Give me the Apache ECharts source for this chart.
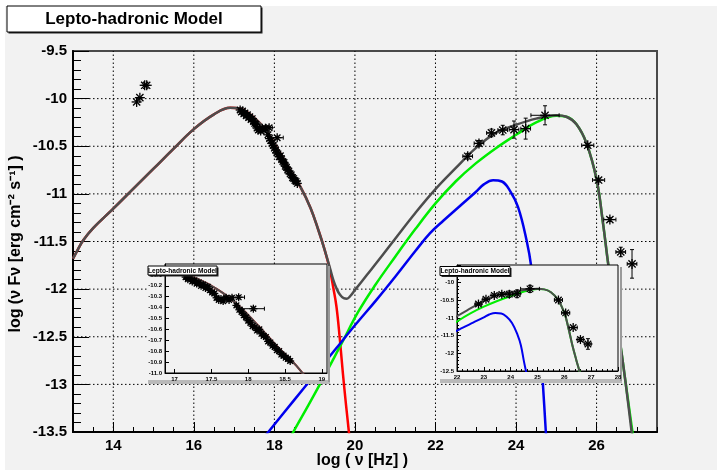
<!DOCTYPE html>
<html lang="en">
<head>
<meta charset="UTF-8">
<title>Lepto-hadronic Model</title>
<style>html,body{margin:0;padding:0;background:#fff}</style>
</head>
<body>
<div id="chart" style="width:717px;height:470px"></div>
<script src="https://cdn.jsdelivr.net/npm/echarts@6/dist/echarts.min.js"></script>
<script>
// model curves, x = log nu [Hz], y = log nuFnu
const synchX = [13.0, 13.1, 13.25, 13.5, 14.0, 14.5, 15.0, 15.5, 16.0, 16.5, 16.9, 17.15, 17.5, 17.8, 18.1, 18.4, 18.65, 18.9, 19.1, 19.25, 19.38, 19.46, 19.54, 19.62, 19.70, 19.78, 19.85, 19.92]
const synchY = [-11.68, -11.60, -11.49, -11.36, -11.155, -10.945, -10.735, -10.525, -10.32, -10.165, -10.095, -10.105, -10.20, -10.34, -10.54, -10.76, -10.93, -11.15, -11.39, -11.59, -11.80, -11.98, -12.18, -12.50, -12.88, -13.22, -13.5, -13.8]

const totalX = [13.0, 13.1, 13.25, 13.5, 14.0, 14.5, 15.0, 15.5, 16.0, 16.5, 16.9, 17.15, 17.5, 17.8, 18.1, 18.4, 18.65, 18.9, 19.1, 19.25, 19.38, 19.46, 19.55, 19.63, 19.72, 19.8, 19.88, 20.0, 20.3, 20.6, 21.0, 21.5, 22.0, 22.5, 23.0, 23.5, 24.0, 24.5, 25.0, 25.25, 25.5, 25.75, 26.0, 26.16, 26.29, 26.45, 26.58, 26.72, 26.87, 27.0]
const totalY = [-11.68, -11.60, -11.49, -11.36, -11.155, -10.945, -10.735, -10.525, -10.32, -10.165, -10.095, -10.105, -10.20, -10.34, -10.54, -10.76, -10.93, -11.15, -11.39, -11.59, -11.78, -11.90, -12.0, -12.06, -12.095, -12.10, -12.075, -12.01, -11.85, -11.69, -11.47, -11.2, -10.95, -10.73, -10.52, -10.36, -10.275, -10.21, -10.175, -10.19, -10.27, -10.47, -10.85, -11.31, -11.74, -12.2, -12.55, -12.98, -13.5, -13.95]

const hadronX = [18.3, 18.47, 19.0, 19.67, 20.08, 20.5, 21.0, 21.5, 22.0, 22.5, 23.0, 23.5, 24.0, 24.5, 25.0, 25.25, 25.5, 25.75, 26.0, 26.16, 26.29, 26.45, 26.58, 26.72, 26.89, 27.0]
const hadronY = [-13.63, -13.5, -13.1, -12.57, -12.24, -11.96, -11.66, -11.37, -11.1, -10.87, -10.68, -10.52, -10.38, -10.25, -10.18, -10.19, -10.27, -10.47, -10.85, -11.31, -11.74, -12.2, -12.55, -12.98, -13.5, -13.85]

const sscX = [17.7, 17.85, 18.5, 19.0, 19.5, 20.0, 20.54, 21.0, 21.5, 21.86, 22.2, 22.6, 23.0, 23.2, 23.43, 23.65, 23.84, 24.05, 24.26, 24.38, 24.5, 24.6, 24.66, 24.74, 24.8]
const sscY = [-13.58, -13.5, -13.16, -12.9, -12.64, -12.38, -12.11, -11.87, -11.6, -11.415, -11.28, -11.13, -10.98, -10.9, -10.856, -10.87, -10.96, -11.14, -11.485, -11.77, -12.25, -12.62, -12.95, -13.5, -13.9]

// observations: x, y, x error, y error
const optX = [14.58, 14.66, 14.78, 14.83]
const optY = [-10.035, -9.99, -9.86, -9.86]
const optEx = [0, 0, 0, 0]
const optEy = [0, 0, 0, 0]

const xrayX = [17.15, 17.18, 17.21, 17.24, 17.27, 17.30, 17.33, 17.36, 17.39, 17.42, 17.45, 17.48, 17.51, 17.54, 17.57, 17.60, 17.63, 17.66, 17.70, 17.74, 17.78, 17.87, 17.84, 17.88, 17.91, 17.94, 17.97, 18.00, 18.03, 18.07, 18.06, 18.09, 18.12, 18.15, 18.18, 18.21, 18.24, 18.27, 18.30, 18.33, 18.36, 18.39, 18.42, 18.45, 18.48, 18.51, 18.54, 18.57]
const xrayY = [-10.12, -10.14, -10.13, -10.16, -10.15, -10.18, -10.17, -10.20, -10.19, -10.22, -10.21, -10.24, -10.26, -10.27, -10.31, -10.33, -10.32, -10.34, -10.31, -10.33, -10.31, -10.305, -10.38, -10.42, -10.44, -10.47, -10.49, -10.52, -10.54, -10.41, -10.57, -10.58, -10.61, -10.60, -10.64, -10.66, -10.67, -10.71, -10.72, -10.75, -10.76, -10.79, -10.80, -10.83, -10.84, -10.86, -10.87, -10.89]
const xrayEx = [0.02, 0.02, 0.02, 0.02, 0.02, 0.02, 0.02, 0.02, 0.02, 0.02, 0.02, 0.02, 0.02, 0.02, 0.02, 0.02, 0.02, 0.02, 0.02, 0.02, 0.02, 0.08, 0.02, 0.02, 0.02, 0.02, 0.02, 0.02, 0.02, 0.15, 0.02, 0.02, 0.02, 0.02, 0.02, 0.02, 0.02, 0.02, 0.02, 0.02, 0.02, 0.02, 0.02, 0.02, 0.02, 0.02, 0.02, 0.02]
const xrayEy = xrayX.map(() => 0.015)

const gamX = [22.80, 23.08, 23.39, 23.67, 23.95, 24.24, 24.72, 25.78, 26.05, 26.33, 26.60, 26.88]
const gamY = [-10.605, -10.47, -10.36, -10.33, -10.325, -10.315, -10.175, -10.49, -10.855, -11.27, -11.61, -11.735]
const gamEx = [0.12, 0.12, 0.12, 0.12, 0.12, 0.12, 0.35, 0.15, 0.15, 0.15, 0.12, 0.12]
const gamEy = [0.03, 0.03, 0.04, 0.05, 0.09, 0.11, 0.10, 0.02, 0.02, 0.02, 0.05, 0.15]

// tick labels / grid positions
const mainXTicks = [14, 16, 18, 20, 22, 24, 26]
const mainYGrid = [-13, -12.5, -12, -11.5, -11, -10.5, -10]
const inset1XTicks = [17, 17.5, 18, 18.5, 19]

const FONT = "'Liberation Sans', Arial, Helvetica, sans-serif"
const pairs = (xs, ys) => xs.map((x, i) => [x, ys[i]])
const rows = (xs, ys, ex, ey) => xs.map((x, i) => [x, ys[i], ex[i], ey[i]])

function curve(xs, ys, color, width, axis, z) {
    return {
        type: 'line', data: pairs(xs, ys), xAxisIndex: axis[0], yAxisIndex: axis[1],
        showSymbol: false, smooth: 0.4, z: z, silent: true,
        lineStyle: { color: color, width: width }
    }
}

// dotted grid: one item per grid value, [direction, value]
function gridLines() {
    const data = mainXTicks.map(v => [0, v]).concat(mainYGrid.map(v => [1, v]))
    return {
        type: 'custom', data: data, xAxisIndex: 0, yAxisIndex: 0, z: 1, silent: true,
        encode: { x: -1, y: -1 },
        renderItem: function (params, api) {
            const dir = api.value(0), v = api.value(1)
            const a = dir === 0 ? api.coord([v, -13.5]) : api.coord([13, v])
            const b = dir === 0 ? api.coord([v, -9.5]) : api.coord([27.5, v])
            return {
                type: 'line', shape: { x1: a[0], y1: a[1], x2: b[0], y2: b[1] },
                style: { stroke: '#000', lineWidth: 1, lineDash: [1.5, 2.5] }
            }
        }
    }
}

// asterisk marker with error bars
function stars(data, size, axis, z) {
    return {
        type: 'custom', data: data, xAxisIndex: axis[0], yAxisIndex: axis[1], clip: true, z: z, silent: true,
        encode: { x: 0, y: 1 },
        renderItem: function (params, api) {
            const x = api.value(0), y = api.value(1), ex = api.value(2), ey = api.value(3)
            const c = api.coord([x, y])
            const kids = []
            const seg = (x1, y1, x2, y2, w) => kids.push({
                type: 'line', shape: { x1, y1, x2, y2 }, style: { stroke: '#000', lineWidth: w }
            })
            if (ex > 0) {
                const l = api.coord([x - ex, y])[0], r = api.coord([x + ex, y])[0]
                seg(l, c[1], r, c[1], 1)
                seg(l, c[1] - 2, l, c[1] + 2, 1)
                seg(r, c[1] - 2, r, c[1] + 2, 1)
            }
            if (ey > 0) {
                const t = api.coord([x, y + ey])[1], b = api.coord([x, y - ey])[1]
                seg(c[0], t, c[0], b, 1)
                seg(c[0] - 2, t, c[0] + 2, t, 1)
                seg(c[0] - 2, b, c[0] + 2, b, 1)
            }
            const s = size / 2, d = s * 0.72
            seg(c[0] - s, c[1], c[0] + s, c[1], 1.3)
            seg(c[0], c[1] - s, c[0], c[1] + s, 1.3)
            seg(c[0] - d, c[1] - d, c[0] + d, c[1] + d, 1.3)
            seg(c[0] - d, c[1] + d, c[0] + d, c[1] - d, 1.3)
            return { type: 'group', children: kids }
        }
    }
}

function modelSeries(axis, z, w, size) {
    return [
        curve(synchX, synchY, '#ff0000', w, axis, z),
        curve(hadronX, hadronY, '#00ee00', w, axis, z),
        curve(sscX, sscY, '#0000ee', w, axis, z),
        curve(totalX, totalY, '#4d4d4d', w, axis, z + 1),
        stars(rows(optX, optY, optEx, optEy), size, axis, z + 2),
        stars(rows(xrayX, xrayY, xrayEx, xrayEy), size - 1, axis, z + 2),
        stars(rows(gamX, gamY, gamEx, gamEy), size, axis, z + 2)
    ]
}

const bigLabel = { color: '#000', fontFamily: FONT, fontWeight: 'bold', fontSize: 15 }
const smallLabel = { color: '#000', fontFamily: FONT, fontWeight: 'bold', fontSize: 6, margin: 3, showMaxLabel: false }

function titleBox(x, y, w, h, fs, z) {
    return [
        { type: 'rect', z: z, shape: { x: x + 1.5, y: y + 1.5, width: w, height: h }, style: { fill: '#222' } },
        { type: 'rect', z: z, shape: { x: x, y: y, width: w, height: h }, style: { fill: '#fff', stroke: '#000', lineWidth: 1 } },
        { type: 'text', z: z, x: x + w / 2, y: y + h / 2 + 0.5, style: { text: 'Lepto-hadronic Model', fill: '#000', font: 'bold ' + fs + 'px ' + FONT, textAlign: 'center', textVerticalAlign: 'middle' } }
    ]
}

function insetBox(x, y, w, h, z) {
    return [
        { type: 'rect', z: z, shape: { x: x, y: y + h, width: w + 2, height: 4 }, style: { fill: '#b9b9b9' } },
        { type: 'rect', z: z, shape: { x: x + w, y: y + 2, width: 2, height: h }, style: { fill: '#9a9a9a' } },
        { type: 'rect', z: z, shape: { x: x, y: y, width: w, height: h }, style: { fill: '#f2f2f2' } }
    ]
}

const chart = echarts.init(document.getElementById('chart'))

chart.setOption({
    backgroundColor: '#f2f2f2',
    animation: false,
    grid: [
        { left: 73, top: 51, width: 584, height: 381, show: true, borderColor: '#4a4a4a', borderWidth: 2, backgroundColor: 'transparent' },
        { left: 165, top: 264, width: 162, height: 109, show: true, borderColor: '#000', borderWidth: 1, backgroundColor: '#f2f2f2', z: 12 },
        { left: 457, top: 265, width: 161, height: 106, show: true, borderColor: '#000', borderWidth: 1, backgroundColor: '#f2f2f2', z: 12 }
    ],
    xAxis: [
        {
            gridIndex: 0, type: 'value', min: 13, max: 27.5, position: 'bottom',
            axisLine: { onZero: false, lineStyle: { color: '#000', width: 2 } },
            axisTick: { customValues: mainXTicks, inside: true, length: 10, lineStyle: { color: '#000' } },
            axisLabel: Object.assign({ customValues: mainXTicks, margin: 6 }, bigLabel),
            splitLine: { show: false }
        },
        {
            gridIndex: 0, type: 'value', min: 13, max: 27.5, interval: 0.5, position: 'bottom',
            axisLine: { show: false, onZero: false },
            axisTick: { inside: true, length: 5, lineStyle: { color: '#000' } },
            axisLabel: { show: false }, splitLine: { show: false }
        },
        {
            gridIndex: 1, type: 'value', min: 16.87, max: 19.07, z: 13,
            axisLine: { onZero: false, lineStyle: { color: '#000', width: 1 } },
            axisTick: { customValues: inset1XTicks, inside: true, length: 4, lineStyle: { color: '#000' } },
            axisLabel: Object.assign({}, smallLabel, { customValues: inset1XTicks, showMaxLabel: true }),
            splitLine: { show: false }
        },
        {
            gridIndex: 2, type: 'value', min: 22, max: 28, interval: 1, z: 13,
            axisLine: { onZero: false, lineStyle: { color: '#000', width: 1 } },
            axisTick: { inside: true, length: 4, lineStyle: { color: '#000' } },
            minorTick: { show: true, splitNumber: 5, length: 2, lineStyle: { color: '#000' } },
            axisLabel: Object.assign({}, smallLabel, { showMaxLabel: true }),
            splitLine: { show: false }
        }
    ],
    yAxis: [
        {
            gridIndex: 0, type: 'value', min: -13.5, max: -9.5, interval: 0.5,
            axisLine: { onZero: false, lineStyle: { color: '#000', width: 2 } },
            axisTick: { inside: true, length: 16, lineStyle: { color: '#000' } },
            minorTick: { show: true, splitNumber: 5, length: 8, lineStyle: { color: '#000' } },
            axisLabel: Object.assign({ margin: 6 }, bigLabel),
            splitLine: { show: false }
        },
        {
            gridIndex: 1, type: 'value', min: -11, max: -10, interval: 0.1, z: 13,
            axisLine: { onZero: false, lineStyle: { color: '#000', width: 1 } },
            axisTick: { inside: true, length: 4, lineStyle: { color: '#000' } },
            axisLabel: Object.assign({ formatter: v => v.toFixed(1) }, smallLabel),
            splitLine: { show: false }
        },
        {
            gridIndex: 2, type: 'value', min: -12.5, max: -9.5, interval: 0.5, z: 13,
            axisLine: { onZero: false, lineStyle: { color: '#000', width: 1 } },
            axisTick: { inside: true, length: 4, lineStyle: { color: '#000' } },
            minorTick: { show: true, splitNumber: 5, length: 2, lineStyle: { color: '#000' } },
            axisLabel: smallLabel,
            splitLine: { show: false }
        }
    ],
    graphic: [
        { type: 'rect', z: 1, shape: { x: 0, y: 0, width: 717, height: 6 }, style: { fill: '#fff' } },
        { type: 'rect', z: 1, shape: { x: 0, y: 0, width: 5, height: 470 }, style: { fill: '#fff' } },
        ...titleBox(7, 6, 254, 26, 17, 30),
        ...insetBox(148, 264, 180, 116, 10),
        ...insetBox(440, 265, 180, 114, 10),
        ...titleBox(148, 266, 69, 9, 6.6, 30),
        ...titleBox(440, 266.5, 70, 9, 6.6, 30),
        {
            type: 'text', z: 5, x: 408, y: 461,
            style: { text: 'log ( \u03bd [Hz] )', fill: '#000', font: 'bold 16px ' + FONT, textAlign: 'right', textVerticalAlign: 'middle' }
        },
        {
            type: 'text', z: 5, x: 16, y: 244, rotation: Math.PI / 2,
            style: { text: 'log (\u03bd F\u03bd [erg cm\u207b\u00b2 s\u207b\u00b9] )', fill: '#000', font: 'bold 16px ' + FONT, textAlign: 'center', textVerticalAlign: 'middle' }
        }
    ],
    series: [
        gridLines(),
        ...modelSeries([0, 0], 2, 2.5, 10),
        ...modelSeries([2, 1], 20, 2, 9),
        ...modelSeries([3, 2], 20, 2, 9)
    ]
})
</script>
</body>
</html>
